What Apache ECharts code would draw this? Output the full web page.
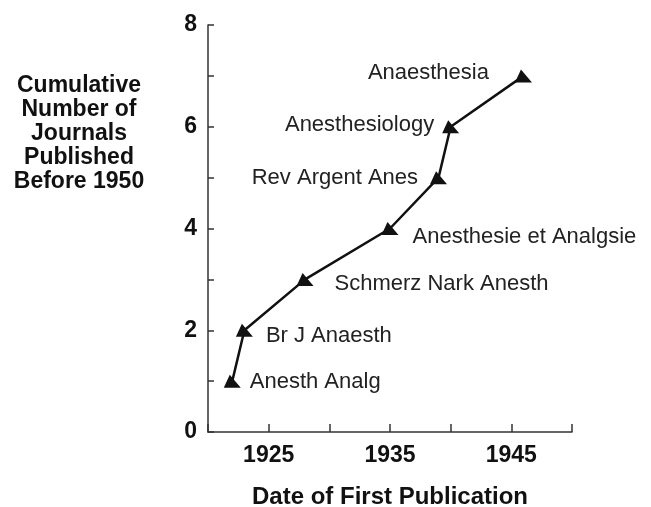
<!DOCTYPE html>
<html>
<head>
<meta charset="utf-8">
<script src="https://cdn.jsdelivr.net/npm/echarts@6/dist/echarts.min.js"></script>
<style>
  html, body { margin: 0; padding: 0; background: #fff; }
  #chart { width: 651px; height: 507px; }
</style>
</head>
<body>
<div id="chart"></div>
<script>
// journals, year of first publication, cumulative count
var years = [1922, 1923, 1928, 1935, 1939, 1940, 1946];
var counts = [1, 2, 3, 4, 5, 6, 7];
var journals = ['Anesth Analg', 'Br J Anaesth', 'Schmerz Nark Anesth', 'Anesthesie et Analgsie',
  'Rev Argent Anes', 'Anesthesiology', 'Anaesthesia'];
var xTickLabels = [1925, 1935, 1945];
var yTickLabels = [0, 2, 4, 6, 8];

var chart = echarts.init(document.getElementById('chart'));
var font = 'Liberation Sans, Arial, Helvetica, sans-serif';

// label placement for each point (side, distance, y shift)
var place = [
  ['right', 9, 1], ['right', 13, 6], ['right', 21, 5], ['right', 14, 8],
  ['left', 12, 0], ['left', 8, -2], ['left', 26, -3]
];

var pts = years.map(function (y, i) {
  return {
    value: [y, counts[i]],
    label: {
      show: true,
      formatter: journals[i],
      position: place[i][0],
      distance: place[i][1],
      offset: [0, place[i][2]]
    }
  };
});

var option = {
  animation: false,
  grid: { left: 208, right: 79, top: 25, bottom: 75, outerBoundsMode: 'none', containLabel: false },
  xAxis: {
    type: 'value', min: 1920, max: 1950, interval: 5,
    axisLine: { lineStyle: { color: '#333', width: 1.5 } },
    axisTick: { inside: true, length: 8, lineStyle: { color: '#333', width: 1.5 } },
    splitLine: { show: false },
    axisLabel: {
      margin: 12, color: '#111', fontFamily: font, fontWeight: 'bold', fontSize: 23,
      formatter: function (v) { return xTickLabels.indexOf(v) >= 0 ? String(v) : ''; }
    },
    name: 'Date of First Publication', nameLocation: 'middle', nameGap: 53,
    nameTextStyle: { color: '#111', fontFamily: font, fontWeight: 'bold', fontSize: 24 }
  },
  yAxis: {
    type: 'value', min: 0, max: 8, interval: 1,
    axisLine: { show: true, lineStyle: { color: '#333', width: 1.5 } },
    axisTick: { show: true, inside: true, length: 6, lineStyle: { color: '#333', width: 1.5 } },
    splitLine: { show: false },
    axisLabel: {
      margin: 11, color: '#111', fontFamily: font, fontWeight: 'bold', fontSize: 23,
      formatter: function (v) { return yTickLabels.indexOf(v) >= 0 ? String(v) : ''; }
    }
  },
  graphic: [{
    type: 'text', x: 79, y: 74, z: 10,
    style: {
      text: 'Cumulative\nNumber of\nJournals\nPublished\nBefore 1950',
      align: 'center', verticalAlign: 'top',
      fill: '#111', font: 'bold 23px ' + font, lineHeight: 24
    }
  }],
  series: [{
    type: 'line',
    data: pts,
    symbol: 'path://M6,0 L0,13 L17,13 Z',
    symbolSize: [17, 13],
    showAllSymbol: true,
    itemStyle: { color: '#111' },
    lineStyle: { color: '#111', width: 2.5 },
    label: { color: '#222', fontFamily: font, fontSize: 22 }
  }]
};
chart.setOption(option);
</script>
</body>
</html>
